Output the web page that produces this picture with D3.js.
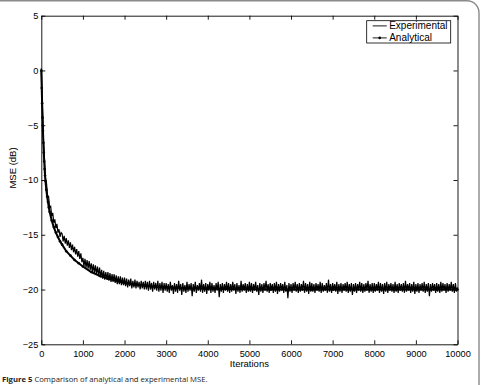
<!DOCTYPE html>
<html>
<head>
<meta charset="utf-8">
<script src="https://cdn.jsdelivr.net/npm/d3@7"></script>
<style>
  body { margin: 0; background: #fff; }
  svg { display: block; }
</style>
</head>
<body>
<div id="chart"></div>
<script>
// experimental MSE (dB), one value every 25 iterations, 0..10000
let expStep = 25;
let expMSE = [
  0.2, -3.1, -6.2, -8.0, -9.8, -10.3, -11.4, -11.5, -12.5, -12.4, -13.3, -13.0, -13.9, -13.6, -14.4, -14.0, -14.8, -14.5, -15.2, -14.8,
  -14.9, -15.6, -15.1, -15.8, -15.3, -16.0, -15.5, -16.2, -15.7, -16.4, -15.9, -16.6, -16.1, -16.8, -16.3, -17.0, -16.5, -17.2, -16.7, -17.5,
  -17.1, -17.9, -17.2, -18.0, -17.3, -18.1, -17.4, -18.2, -17.6, -18.4, -17.7, -18.5, -17.8, -18.6, -17.9, -18.7, -18.0, -18.9, -18.2, -19.0,
  -18.3, -19.1, -18.4, -19.1, -18.4, -19.2, -18.5, -19.3, -18.6, -19.3, -18.6, -19.4, -18.7, -19.5, -18.8, -19.5, -18.8, -19.6, -18.9, -19.6,
  -18.9, -19.7, -19.0, -19.8, -19.1, -19.7, -19.0, -19.9, -19.2, -19.8, -19.1, -19.9, -19.2, -19.8, -19.3, -20.0, -19.2, -19.9, -19.3, -20.0,
  -19.2, -20.0, -19.3, -20.1, -19.2, -20.0, -19.4, -20.2, -19.3, -20.0, -19.4, -20.1, -19.2, -20.2, -19.4, -20.1, -19.3, -20.3, -19.4, -20.1,
  -19.4, -20.2, -19.5, -20.3, -19.3, -20.1, -19.6, -20.4, -19.4, -20.2, -19.5, -20.3, -19.2, -20.1, -19.5, -20.5, -19.4, -20.2, -19.6, -20.3,
  -19.3, -20.2, -19.5, -20.1, -19.4, -20.6, -19.5, -20.2, -19.3, -20.3, -19.6, -20.1, -19.4, -20.2, -19.1, -20.3, -19.5, -20.2, -19.4, -20.4,
  -19.5, -20.1, -19.3, -20.3, -19.4, -20.2, -19.6, -20.3, -19.4, -20.1, -19.3, -20.7, -19.5, -20.2, -19.4, -20.3, -19.5, -20.1, -19.3, -20.2,
  -19.4, -20.3, -19.5, -20.2, -19.3, -20.1, -19.5, -20.4, -19.4, -20.2, -19.6, -20.3, -19.2, -20.2, -19.5, -20.1, -19.4, -20.3, -19.5, -20.2,
  -19.3, -20.2, -19.4, -20.3, -19.5, -20.1, -19.3, -20.2, -19.6, -20.5, -19.4, -20.2, -19.5, -20.3, -19.4, -20.1, -19.2, -20.2, -19.5, -20.3,
  -19.4, -20.1, -19.5, -20.3, -19.4, -20.2, -19.3, -20.4, -19.5, -20.2, -19.4, -20.1, -19.5, -20.3, -19.3, -20.2, -19.6, -20.8, -19.4, -20.2,
  -19.5, -20.3, -19.4, -20.1, -19.3, -20.2, -19.5, -20.3, -19.4, -20.2, -19.5, -20.1, -19.2, -20.3, -19.4, -20.2, -19.5, -20.4, -19.3, -20.2,
  -19.4, -20.2, -19.5, -20.3, -19.4, -20.1, -19.5, -20.2, -19.3, -20.3, -19.4, -20.2, -19.6, -20.1, -19.4, -20.3, -19.1, -20.2, -19.5, -20.3,
  -19.4, -20.1, -19.5, -20.2, -19.3, -20.4, -19.5, -20.2, -19.4, -20.3, -19.5, -20.1, -19.4, -20.2, -19.3, -20.3, -19.5, -20.2, -19.4, -20.5,
  -19.5, -20.2, -19.4, -20.3, -19.5, -20.1, -19.3, -20.2, -19.4, -20.3, -19.5, -20.2, -19.4, -20.1, -19.2, -20.3, -19.5, -20.2, -19.4, -20.3,
  -19.4, -20.2, -19.5, -20.1, -19.3, -20.3, -19.4, -20.2, -19.5, -20.4, -19.4, -20.2, -19.3, -20.3, -19.5, -20.1, -19.4, -20.2, -19.5, -20.3,
  -19.3, -20.2, -19.5, -20.3, -19.4, -20.1, -19.5, -20.2, -19.4, -20.3, -19.2, -20.2, -19.5, -20.1, -19.4, -20.3, -19.5, -20.2, -19.3, -20.4,
  -19.5, -20.2, -19.4, -20.3, -19.5, -20.1, -19.4, -20.2, -19.3, -20.3, -19.5, -20.2, -19.4, -20.6, -19.5, -20.2, -19.4, -20.1, -19.5, -20.3,
  -19.4, -20.2, -19.5, -20.3, -19.3, -20.2, -19.4, -20.1, -19.5, -20.3, -19.4, -20.2, -19.5, -20.1, -19.3, -20.2, -19.5, -20.3, -19.4, -20.2,
  -19.8
];

// analytical MSE (dB)
let anIter = [0, 10, 20, 30, 40, 50, 60, 70, 80, 90, 100, 120, 140, 160, 180, 200, 250, 300, 350, 400,
  450, 500, 600, 700, 800, 900, 1000, 1200, 1400, 1600, 1800, 2000, 2250, 2500, 2750, 3000, 3500, 4000,
  4500, 5000, 5500, 6000, 6500, 7000, 7500, 8000, 8500, 9000, 9500, 10000];
let anMSE = [0, -1.6, -3.0, -4.3, -5.5, -6.6, -7.5, -8.3, -9.0, -9.6, -10.1, -10.9, -11.5, -12.0, -12.5, -12.9, -13.7, -14.3, -14.8, -15.2,
  -15.6, -15.9, -16.5, -16.9, -17.3, -17.6, -17.9, -18.4, -18.75, -19.0, -19.2, -19.4, -19.55, -19.65, -19.75, -19.8, -19.88, -19.93,
  -19.96, -19.98, -19.99, -20.0, -20.0, -20.0, -20.0, -20.0, -20.0, -20.0, -20.0, -20.0];

let xTicks = [0, 1000, 2000, 3000, 4000, 5000, 6000, 7000, 8000, 9000, 10000];
let yTicks = [-25, -20, -15, -10, -5, 0, 5];
let legendNames = ["Experimental", "Analytical"];

let axisFont = "'Liberation Sans', Arial, Helvetica, sans-serif";

function main() {
    let w = 483, h = 385;
    let svg = d3.select("#chart").append("svg")
        .attr("width", w)
        .attr("height", h);

    // figure frame (top and right edge, rounded corner)
    svg.append("path")
        .attr("d", "M0,0.8 H467 A12,12 0 0 1 479,12.8 V385")
        .attr("fill", "none")
        .attr("stroke", "#8a8a8a")
        .attr("stroke-width", 1.4);

    let left = 41.3, right = 457.5, top = 15.7, bottom = 344.3;
    let x = d3.scaleLinear().domain([0, 10000]).range([left, right]);
    let y = d3.scaleLinear().domain([-25, 5]).range([bottom, top]);

    let expData = expMSE.map((v, i) => [i * expStep, v]);
    let anData = anIter.map((it, i) => [it, anMSE[i]]);

    let line = d3.line().x(d => x(d[0])).y(d => y(d[1]));

    let plot = svg.append("g");
    plot.append("path")
        .datum(expData)
        .attr("d", line)
        .attr("fill", "none")
        .attr("stroke", "#000")
        .attr("stroke-width", 1.2);

    plot.append("path")
        .datum(anData)
        .attr("d", line)
        .attr("fill", "none")
        .attr("stroke", "#000")
        .attr("stroke-width", 2);

    plot.selectAll("circle.an")
        .data(anData)
        .enter().append("circle")
        .attr("class", "an")
        .attr("cx", d => x(d[0]))
        .attr("cy", d => y(d[1]))
        .attr("r", 1.3)
        .attr("fill", "#000");

    // axes, ticks pointing inward on all four sides
    let fmt = d => d < 0 ? "\u2212" + Math.abs(d) : String(d);
    let gx = svg.append("g").attr("transform", `translate(0,${bottom})`)
        .call(d3.axisBottom(x).tickValues(xTicks).tickSize(-4).tickSizeOuter(0).tickPadding(6).tickFormat(fmt));
    let gy = svg.append("g").attr("transform", `translate(${left},0)`)
        .call(d3.axisLeft(y).tickValues(yTicks).tickSize(-4).tickSizeOuter(0).tickPadding(3).tickFormat(fmt));
    let gt = svg.append("g").attr("transform", `translate(0,${top})`)
        .call(d3.axisTop(x).tickValues(xTicks).tickSize(-4).tickSizeOuter(0).tickFormat(""));
    let gr = svg.append("g").attr("transform", `translate(${right},0)`)
        .call(d3.axisRight(y).tickValues(yTicks).tickSize(-4).tickSizeOuter(0).tickFormat(""));

    [gx, gy, gt, gr].forEach(g => {
        g.attr("font-family", axisFont).attr("font-size", 9.2);
        g.selectAll("path, line").attr("stroke", "#000").attr("stroke-width", 0.9);
        g.selectAll("text").attr("fill", "#000");
    });

    svg.append("text")
        .attr("x", (left + right) / 2)
        .attr("y", 367)
        .attr("text-anchor", "middle")
        .attr("font-family", axisFont)
        .attr("font-size", 9.5)
        .text("Iterations");

    svg.append("text")
        .attr("transform", `translate(15.5,168) rotate(-90)`)
        .attr("text-anchor", "middle")
        .attr("font-family", axisFont)
        .attr("font-size", 9.5)
        .text("MSE (dB)");

    // legend
    let lg = svg.append("g").attr("transform", "translate(366.7,20.7)");
    lg.append("rect")
        .attr("width", 84).attr("height", 22.3)
        .attr("fill", "#fff").attr("stroke", "#000").attr("stroke-width", 0.8);
    let items = lg.selectAll("g.item")
        .data(legendNames)
        .enter().append("g")
        .attr("class", "item")
        .attr("transform", (d, i) => `translate(0,${5.2 + i * 12})`);
    items.append("line")
        .attr("x1", 6).attr("x2", 20)
        .attr("stroke", "#000").attr("stroke-width", 0.9);
    items.filter((d, i) => i == 1).append("circle")
        .attr("cx", 13).attr("r", 1.3).attr("fill", "#000");
    items.append("text")
        .attr("x", 22.5)
        .attr("y", 3.5)
        .attr("font-family", axisFont)
        .attr("font-size", 10)
        .text(d => d);

    // caption
    let cap = svg.append("text")
        .attr("x", 2)
        .attr("y", 382)
        .attr("font-family", "'Open Sans', 'Noto Sans', sans-serif")
        .attr("font-size", 7.7)
        .attr("fill", "#222");
    cap.append("tspan").attr("font-weight", "bold").text("Figure 5 ");
    cap.append("tspan").text("Comparison of analytical and experimental MSE.");
}

main();
</script>
</body>
</html>
